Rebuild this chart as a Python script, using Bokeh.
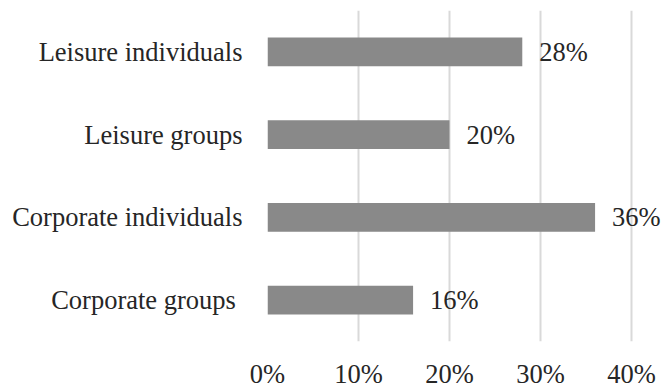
from bokeh.plotting import figure
from bokeh.models import ColumnDataSource, NumeralTickFormatter, FixedTicker, Range1d, FactorRange
from bokeh.core.properties import value
from bokeh.embed import file_html
from bokeh.resources import INLINE

categories = ["Corporate groups ", "Corporate individuals", "Leisure groups", "Leisure individuals"]
shares = [0.16, 0.36, 0.20, 0.28]
labels = ["16%", "36%", "20%", "28%"]
x_ticks = [0, 0.1, 0.2, 0.3, 0.4]

FONT = "Liberation Serif"
TEXT = "#262626"
FS = "26.5px"

src = ColumnDataSource(dict(cat=categories, v=shares, lab=labels))

p = figure(width=661, height=391, output_backend="svg", toolbar_location=None,
           y_range=FactorRange(*categories, range_padding=0),
           x_range=Range1d(0, 0.433),
           min_border_left=267, min_border_right=0, min_border_top=10, min_border_bottom=46)
p.outline_line_color = None
p.background_fill_color = "white"
p.border_fill_color = "white"

p.hbar(y="cat", right="v", left=0, height=0.35, source=src,
       fill_color="#898989", line_color=None)
p.text(x="v", y="cat", text="lab", source=src, x_offset=17,
       text_font=value(FONT), text_font_size=FS, text_color=TEXT,
       text_align="left", text_baseline="middle")

p.xaxis.ticker = FixedTicker(ticks=x_ticks)
p.xaxis.formatter = NumeralTickFormatter(format="0%")
p.xgrid.ticker = FixedTicker(ticks=x_ticks)
p.xgrid.grid_line_color = "#d9d9d9"
p.xgrid.grid_line_width = 2
p.ygrid.grid_line_color = None

for ax in (p.xaxis[0], p.yaxis[0]):
    ax.axis_line_color = None
    ax.major_tick_line_color = None
    ax.minor_tick_line_color = None
    ax.major_label_text_font = FONT
    ax.major_label_text_font_size = FS
    ax.major_label_text_color = TEXT
p.xaxis.major_label_standoff = 11
p.yaxis.major_label_standoff = 19

open("out.html", "w").write(file_html(p, INLINE))
